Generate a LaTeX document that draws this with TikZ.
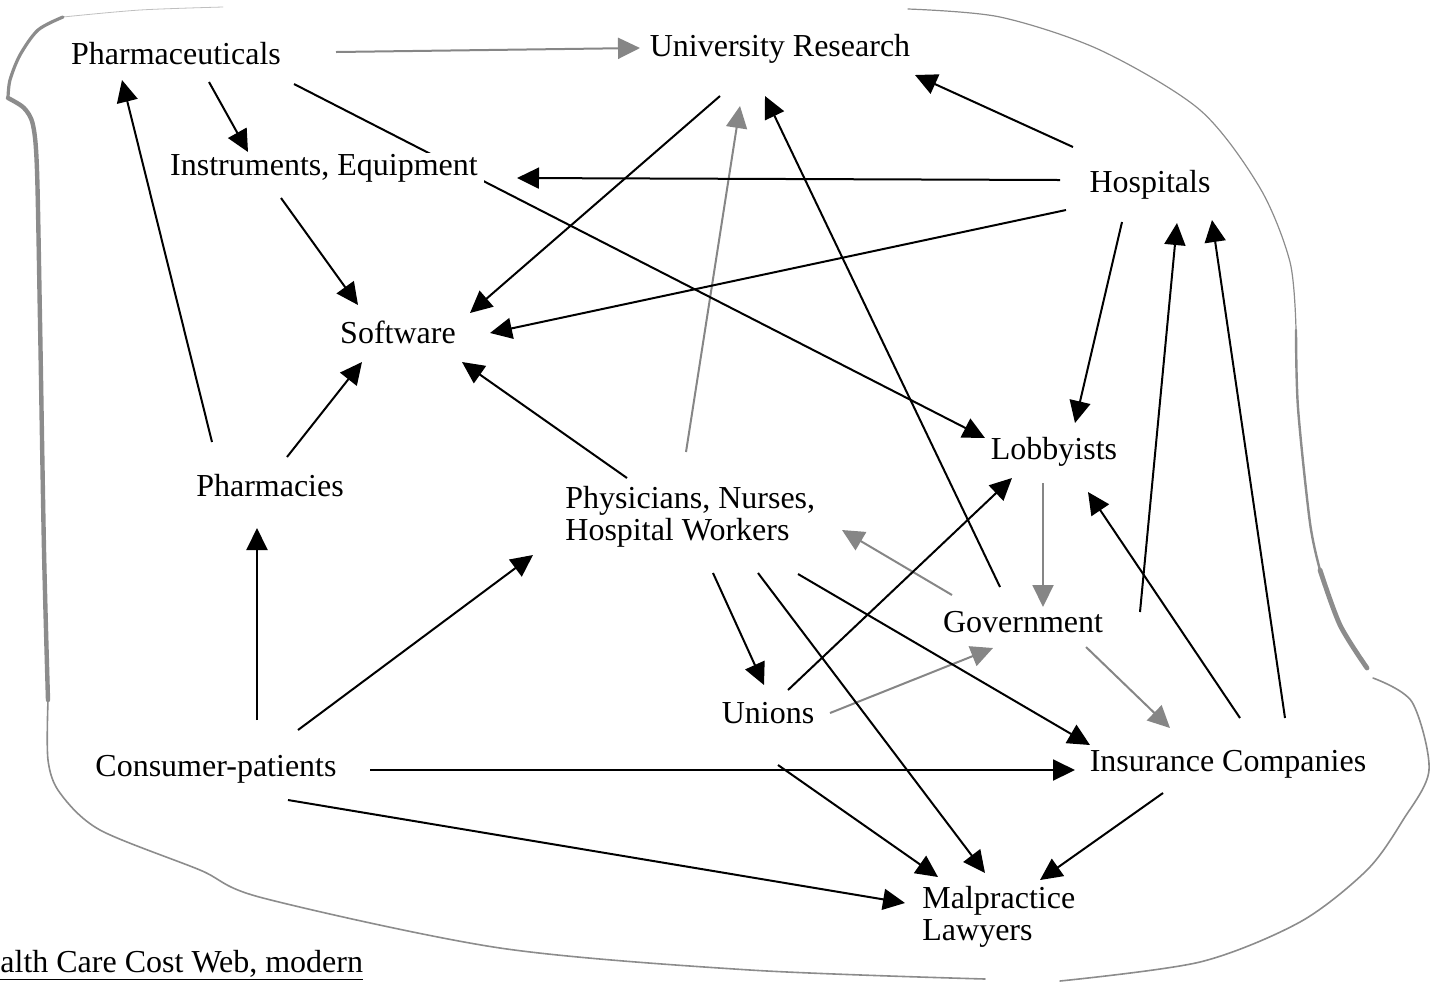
\documentclass[tikz,border=0pt]{standalone}
\usepackage{fontspec}
\setmainfont{Liberation Serif}
\usepackage{tikz}
\usetikzlibrary{arrows.meta,calc,backgrounds}

\begin{document}
\begin{tikzpicture}[x=0.5pt,y=-0.5pt,
    box/.style={font=\fontsize{16}{16}\selectfont,inner xsep=3pt,inner ysep=0.5pt,fill=white},
    arr/.style={line width=1pt,-{Triangle[length=11pt,width=10.5pt]}},
    garr/.style={arr,draw=gray!95,-{Triangle[length=11pt,width=10.5pt,fill=gray!95]}},
    rim/.style={draw=gray!90,line cap=round}]
  \useasboundingbox (0,0) rectangle (1440,982);

  % actors
  \node[box,anchor=base] (phm) at (176,64) {Pharmaceuticals};
  \node[box,anchor=base] (ur) at (780,56) {University Research};
  \node[box,anchor=base] (ins) at (324,175) {Instruments, Equipment};
  \node[box,anchor=base] (hos) at (1150,192) {Hospitals};
  \node[box,anchor=base] (sw) at (398,343) {Software};
  \node[box,anchor=base] (lob) at (1054,459) {Lobbyists};
  \node[box,anchor=base] (phc) at (270,496) {Pharmacies};
  \node[box,anchor=north west,align=left] (phy) at (559,485) {Physicians, Nurses,\\Hospital Workers};
  \node[box,anchor=base] (gov) at (1023,632) {Government};
  \node[box,anchor=base] (uni) at (768,723) {Unions};
  \node[box,anchor=base] (con) at (216,776) {Consumer-patients};
  \node[box,anchor=base] (isc) at (1228,771) {Insurance Companies};
  \node[box,anchor=north west,align=left] (mal) at (916,885) {Malpractice\\Lawyers};
  \node[box,anchor=base west,inner sep=0pt] (cap) at (0,972) {\underline{alth Care Cost Web, modern}};

  \begin{scope}[on background layer]
    % outer rim
    \draw[rim,draw=gray!50,line width=0.4pt] plot[smooth] coordinates {(223,7) (140,10) (63,17)};
    \draw[rim,line width=1.6pt] plot[smooth] coordinates {(63,17) (38,30) (20,55) (10,80) (8,98)};
    \draw[rim,line width=2.2pt] plot[smooth] coordinates {(8,98) (24,108) (33,125) (37,170) (40,320) (44,550) (48,700)};
    \draw[rim,line width=0.8pt] plot[smooth] coordinates {(48,700) (48,760) (60,793) (100,830) (200,870) (263,898) (500,948) (750,970) (985,979)};
    \draw[rim,line width=0.8pt] plot[smooth] coordinates {(1060,981) (1200,962) (1300,922) (1367,870) (1403,820) (1429,770) (1412,702) (1373,678)};
    \draw[rim,line width=0.6pt] plot[smooth] coordinates {(908,9) (1000,17) (1100,50) (1200,110) (1260,188) (1290,262) (1296,330)};
    \draw[rim,line width=1.2pt] plot[smooth] coordinates {(1296,330) (1298,408) (1310,523) (1320,570)};
    \draw[rim,line width=2.4pt] plot[smooth] coordinates {(1320,570) (1340,625) (1367,668)};

    % grey links
    \draw[garr] ($(phm.base)+(160,-12)$) -- ($(ur.base)+(-140,-8)$);
    \draw[garr] ($(phy.north west)+(127,-33)$) -- ($(ur.base)+(-40,50)$);
    \draw[garr] ($(gov.base)+(-71,-37)$) -- ($(phy.north west)+(283,45)$);
    \draw[garr] ($(uni.base)+(62,-10)$) -- ($(gov.base)+(-30,16)$);
    \draw[garr] ($(lob.base)+(-11,24)$) -- ($(gov.base)+(20,-25)$);
    \draw[garr] ($(gov.base)+(63,15)$) -- ($(isc.base)+(-58,-43)$);

    % black links
    \draw[arr] ($(phm.base)+(33,18)$) -- ($(ins.base)+(-76,-23)$);
    \draw[arr] ($(phm.base)+(118,20)$) -- ($(lob.base)+(-69,-21)$);
    \draw[arr] ($(ins.base)+(-43,23)$) -- ($(sw.base)+(-40,-38)$);
    \draw[arr] ($(ur.base)+(-60,40)$) -- ($(sw.base)+(72,-30)$);
    \draw[arr] ($(gov.base)+(-23,-45)$) -- ($(ur.base)+(-15,40)$);
    \draw[arr] ($(hos.base)+(-77,-45)$) -- ($(ur.base)+(135,19)$);
    \draw[arr] ($(hos.base)+(-90,-12)$) -- ($(ins.base)+(193,3)$);
    \draw[arr] ($(hos.base)+(-84,18)$) -- ($(sw.base)+(92,-10)$);
    \draw[arr] ($(hos.base)+(-28,30)$) -- ($(lob.base)+(21,-36)$);
    \draw[arr] ($(phc.base)+(-58,-54)$) -- ($(phm.base)+(-54,16)$);
    \draw[arr] ($(phc.base)+(17,-39)$) -- ($(sw.base)+(-36,19)$);
    \draw[arr] ($(phy.north west)+(68,-7)$) -- ($(sw.base)+(64,19)$);
    \draw[arr] ($(con.base)+(41,-56)$) -- ($(phc.base)+(-13,32)$);
    \draw[arr] ($(con.base)+(82,-46)$) -- ($(phy.north west)+(-26,70)$);
    \draw[arr] ($(con.base)+(154,-6)$) -- ($(isc.base)+(-153,-1)$);
    \draw[arr] ($(con.base)+(72,24)$) -- ($(mal.north west)+(-11,18)$);
    \draw[arr] ($(phy.north west)+(154,88)$) -- ($(uni.base)+(-4,-38)$);
    \draw[arr] ($(phy.north west)+(199,88)$) -- ($(mal.north west)+(69,-12)$);
    \draw[arr] ($(phy.north west)+(239,89)$) -- ($(isc.base)+(-138,-26)$);
    \draw[arr] ($(uni.base)+(20,-33)$) -- ($(lob.base)+(-42,19)$);
    \draw[arr] ($(uni.base)+(10,42)$) -- ($(mal.north west)+(22,-8)$);
    \draw[arr] ($(gov.base)+(117,-20)$) -- ($(hos.base)+(27,31)$);
    \draw[arr] ($(isc.base)+(57,-53)$) -- ($(hos.base)+(62,28)$);
    \draw[arr] ($(isc.base)+(12,-53)$) -- ($(lob.base)+(34,33)$);
    \draw[arr] ($(isc.base)+(-65,22)$) -- ($(mal.north west)+(124,-5)$);
  \end{scope}
\end{tikzpicture}
\end{document}
